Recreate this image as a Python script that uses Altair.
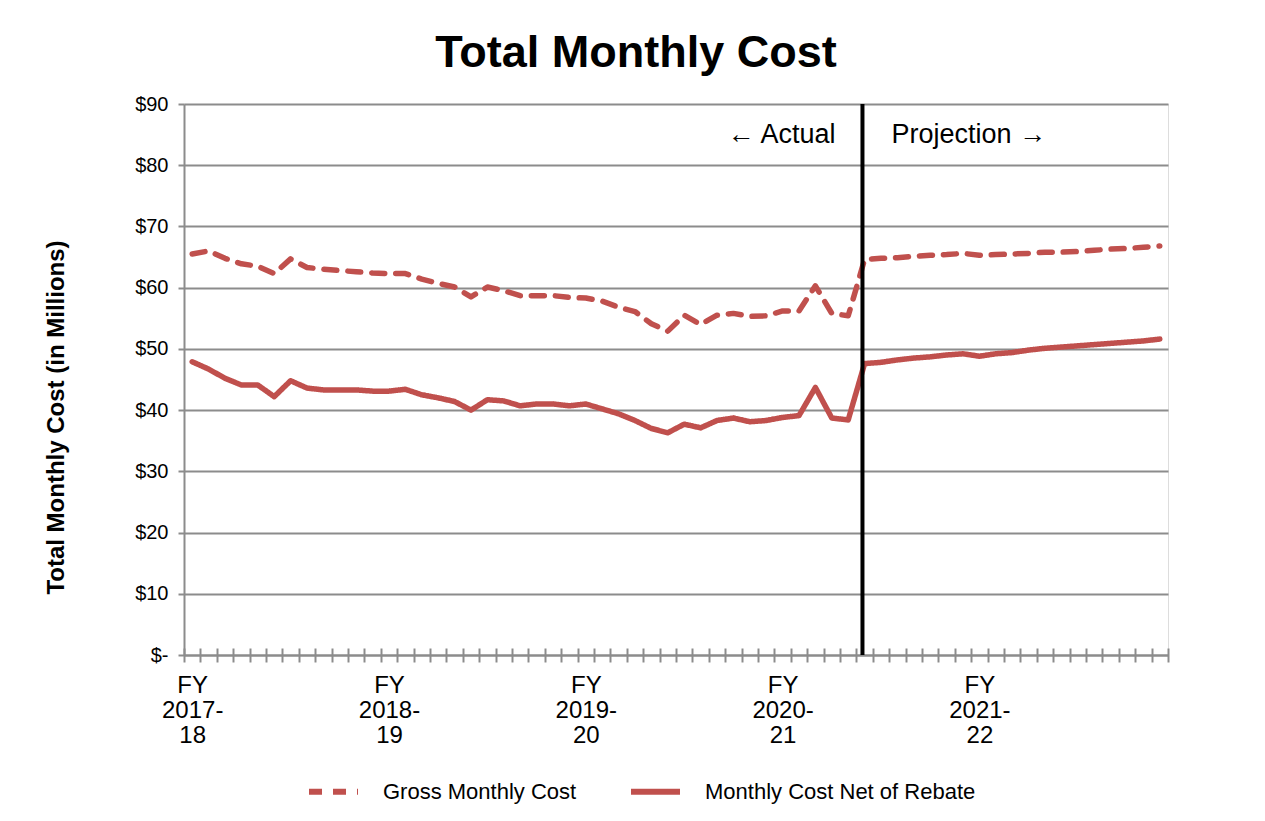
import json
import altair as alt
import pandas as pd

# ---------------- data ----------------
month_index = list(range(60))

gross_cost = [65.5, 66.0, 64.8, 63.9, 63.5, 62.3, 64.7, 63.3, 63.0, 62.8,
              62.6, 62.4, 62.3, 62.3, 61.4, 60.7, 60.1, 58.5, 60.1, 59.5,
              58.7, 58.7, 58.7, 58.4, 58.3, 57.8, 56.8, 56.1, 54.1, 52.9,
              55.5, 54.0, 55.5, 55.8, 55.3, 55.4, 56.2, 56.2, 60.3, 55.8,
              55.4, 64.6, 64.8, 64.9, 65.1, 65.3, 65.4, 65.6, 65.3, 65.4,
              65.5, 65.6, 65.8, 65.8, 65.9, 66.1, 66.3, 66.4, 66.6, 66.8]

net_cost = [47.9, 46.7, 45.2, 44.1, 44.1, 42.2, 44.8, 43.6, 43.3, 43.3,
            43.3, 43.1, 43.1, 43.4, 42.5, 42.0, 41.4, 40.0, 41.7, 41.5,
            40.7, 41.0, 41.0, 40.7, 41.0, 40.2, 39.4, 38.3, 37.0, 36.3,
            37.7, 37.1, 38.3, 38.7, 38.1, 38.3, 38.8, 39.1, 43.7, 38.7,
            38.4, 47.6, 47.8, 48.2, 48.5, 48.7, 49.0, 49.2, 48.8, 49.2,
            49.4, 49.8, 50.1, 50.3, 50.5, 50.7, 50.9, 51.1, 51.3, 51.6]

series_names = ["Gross Monthly Cost", "Monthly Cost Net of Rebate"]

fy_tick_index = [0, 12, 24, 36, 48]
fy_labels = [["FY", "2017-", "18"], ["FY", "2018-", "19"], ["FY", "2019-", "20"],
             ["FY", "2020-", "21"], ["FY", "2021-", "22"]]
month_boundaries = [i - 0.5 for i in range(61)]

y_ticks = [0, 10, 20, 30, 40, 50, 60, 70, 80, 90]
zero_label = "$-\u00a0"

split_position = 40.87          # actual / projection divider
annotation_value = 85
annotation_left = "← Actual"
annotation_right = "Projection →"

# ---------------- tables ----------------
rows = []
for i, g, n in zip(month_index, gross_cost, net_cost):
    rows.append({"idx": i, "value": g, "series": series_names[0]})
    rows.append({"idx": i, "value": n, "series": series_names[1]})
df = pd.DataFrame(rows)

split_df = pd.DataFrame({"pos": [split_position]})
left_df = pd.DataFrame({"pos": [split_position], "value": [annotation_value], "text": [annotation_left]})
right_df = pd.DataFrame({"pos": [split_position], "value": [annotation_value], "text": [annotation_right]})

# ---------------- styles ----------------
RED = "#C0504D"
GRID = "#8C8C8C"
FONT = "Liberation Sans"

label_expr = "".join(
    f"datum.value == {v} ? {json.dumps(lbl)} : " for v, lbl in zip(fy_tick_index, fy_labels)
) + "''"

x_scale = alt.Scale(domain=[-0.5, 59.5], nice=False, zero=False)
y_scale = alt.Scale(domain=[0, 90], nice=False, zero=True)

y_axis = alt.Axis(values=y_ticks,
                  labelExpr=f"datum.value == 0 ? {json.dumps(zero_label, ensure_ascii=False)} : '$' + datum.value",
                  grid=True, gridColor=GRID, gridWidth=2,
                  domain=True, domainColor=GRID, domainWidth=2,
                  ticks=True, tickColor=GRID, tickWidth=2, tickSize=6,
                  labelFontSize=20, labelPadding=10, labelColor="#000000",
                  title="Total Monthly Cost (in Millions)", titleFontSize=24,
                  titleFontWeight="bold", titleColor="#000000",
                  titleX=-116, titleY=313, titleAngle=270,
                  titleBaseline="bottom", titleAlign="center")

legend = alt.Legend(
    title=None, orient="none", legendX=122, legendY=660, direction="horizontal",
    symbolType="stroke", symbolSize=2400, symbolStrokeWidth=6, symbolStrokeColor=RED,
    labelFontSize=22, labelColor="#000000", labelLimit=400, columnPadding=42,
    padding=0, labelOffset=22,
)

lines = alt.Chart(df).mark_line(strokeWidth=5.5, strokeCap="round", strokeJoin="round").encode(
    x=alt.X("idx:Q", scale=x_scale,
            axis=alt.Axis(orient="bottom", values=fy_tick_index, labelExpr=label_expr,
                          ticks=False, grid=False, domain=True, domainColor=GRID,
                          domainWidth=2, labelFontSize=24, labelLineHeight=25,
                          labelPadding=18, labelColor="#000000", labelBaseline="top",
                          labelAlign="center", title=None, labelFlush=False,
                          labelOverlap=False)),
    y=alt.Y("value:Q", scale=y_scale, axis=y_axis),
    color=alt.Color("series:N", scale=alt.Scale(domain=series_names, range=[RED, RED]),
                    legend=legend),
    strokeDash=alt.StrokeDash("series:N",
                              scale=alt.Scale(domain=series_names, range=[[13, 11], [1, 0]]),
                              legend=legend),
)

divider = alt.Chart(split_df).mark_rule(color="black", strokeWidth=4).encode(
    x=alt.X("pos:Q", scale=x_scale,
            axis=alt.Axis(orient="bottom", values=month_boundaries, labels=False,
                          domain=False, grid=False, ticks=True, tickSize=14,
                          tickWidth=2, tickColor=GRID, offset=-7, title=None)),
)

text_left = alt.Chart(left_df).mark_text(align="right", baseline="middle", dx=-27,
                                         fontSize=27, color="#000000").encode(
    x=alt.X("pos:Q", scale=x_scale, axis=None),
    y=alt.Y("value:Q", scale=y_scale, axis=y_axis),
    text="text:N",
)
text_right = alt.Chart(right_df).mark_text(align="left", baseline="middle", dx=29,
                                           fontSize=27, color="#000000").encode(
    x=alt.X("pos:Q", scale=x_scale, axis=None),
    y=alt.Y("value:Q", scale=y_scale, axis=y_axis),
    text="text:N",
)

chart = alt.layer(lines, divider, text_left, text_right).resolve_axis(
    x="independent"
).properties(
    width=984, height=551,
    autosize=alt.AutoSizeParams(type="none"),
    padding={"left": 176, "top": 96, "right": 80, "bottom": 160},
    title=alt.TitleParams("Total Monthly Cost", fontSize=45, fontWeight="bold",
                          anchor="middle", dx=-40, offset=18, color="#000000",
                          font=FONT),
).configure_view(strokeWidth=0, stroke="transparent").configure_axis(
    labelFont=FONT, titleFont=FONT
).configure_legend(labelFont=FONT).configure_text(font=FONT).configure(background="white")

chart.save("out.html", embed_options={"renderer": "svg", "actions": False})
